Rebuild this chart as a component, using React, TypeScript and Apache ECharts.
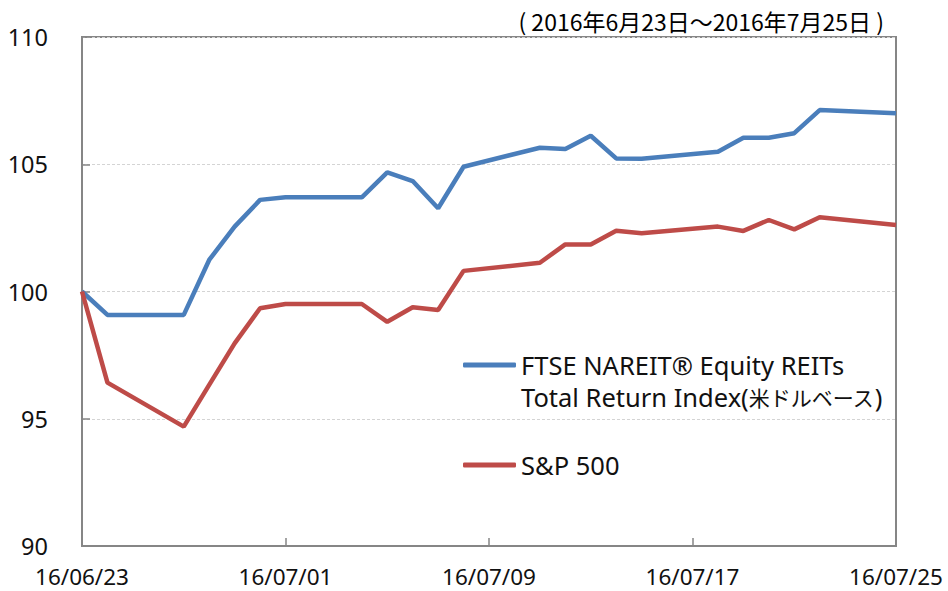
import React, { useEffect, useRef } from 'react';
import * as echarts from 'echarts';

const dates = ['2016-06-23', '2016-06-24', '2016-06-27', '2016-06-28', '2016-06-29', '2016-06-30', '2016-07-01', '2016-07-04', '2016-07-05', '2016-07-06', '2016-07-07', '2016-07-08', '2016-07-11', '2016-07-12', '2016-07-13', '2016-07-14', '2016-07-15', '2016-07-18', '2016-07-19', '2016-07-20', '2016-07-21', '2016-07-22', '2016-07-25'];
const reitValues = [100, 99.08, 99.08, 101.24, 102.55, 103.6, 103.7, 103.7, 104.68, 104.34, 103.27, 104.9, 105.65, 105.6, 106.12, 105.23, 105.22, 105.49, 106.04, 106.04, 106.22, 107.13, 107.0];
const spValues = [100, 96.42, 94.69, 96.33, 97.96, 99.34, 99.51, 99.51, 98.81, 99.38, 99.27, 100.81, 101.13, 101.85, 101.85, 102.39, 102.29, 102.55, 102.38, 102.81, 102.44, 102.92, 102.61];
const xTickLabels = ['16/06/23', '16/07/01', '16/07/09', '16/07/17', '16/07/25'];
const reitName = 'FTSE NAREIT® Equity REITs';
const reitName2Latin = 'Total Return Index(';
const reitName2Jp = '米ドルベース';
const reitName2End = ')';
const spName = 'S&P 500';
const periodText = '( 2016年6月23日～2016年7月25日 )';

const FONT = "'Noto Sans', 'Noto Sans CJK JP', sans-serif";
const JPFONT = "'Noto Sans CJK JP', sans-serif";
const AXIS = '#868686';

export default function App() {
  const ref = useRef<HTMLDivElement>(null);
  useEffect(() => {
    if (!ref.current) return;
    const chart = echarts.init(ref.current, undefined, { renderer: 'svg' });
    const t0 = Date.parse(dates[0]);
    const dayIndex = dates.map((d) => Math.round((Date.parse(d) - t0) / 86400000));
    const option = {
      animation: false,
      backgroundColor: '#ffffff',
      textStyle: { fontFamily: FONT },
      title: {
        text: periodText,
        right: 59,
        top: 4,
        textStyle: { fontSize: 23, fontWeight: 'normal', color: '#000', fontFamily: JPFONT },
      },
      grid: {
        left: 82, right: 52, top: 37, bottom: 45,
        show: true, borderColor: AXIS, borderWidth: 2, backgroundColor: 'transparent',
      },
      legend: [
        {
          data: [reitName],
          orient: 'vertical',
          left: 463,
          top: 317,
          padding: 0,
          icon: 'roundRect',
          itemWidth: 53,
          itemHeight: 5,
          formatter: () => ' \n' + reitName + '\n' + reitName2Latin + '{jp|' + reitName2Jp + '}' + reitName2End,
          textStyle: {
            fontSize: 25.5, lineHeight: 32, color: '#111', fontFamily: FONT,
            rich: { jp: { fontSize: 21, lineHeight: 32, color: '#111', fontFamily: JPFONT } },
          },
        },
        {
          data: [spName],
          orient: 'vertical',
          left: 463,
          top: 449,
          padding: 0,
          icon: 'roundRect',
          itemWidth: 53,
          itemHeight: 5,
          textStyle: { fontSize: 25.5, lineHeight: 32, color: '#111', fontFamily: FONT },
        },
      ],
      xAxis: {
        type: 'value',
        min: 0,
        max: 32,
        interval: 8,
        axisLine: { lineStyle: { color: AXIS, width: 2 } },
        axisTick: { show: true, inside: true, length: 8, lineStyle: { color: AXIS, width: 1.5 } },
        axisLabel: {
          fontSize: 22.5, lineHeight: 22, color: '#111', margin: 19, fontFamily: FONT,
          formatter: (v: number) => xTickLabels[Math.round(v / 8)] ?? '',
        },
        splitLine: { show: false },
      },
      yAxis: {
        type: 'value',
        min: 90,
        max: 110,
        interval: 5,
        axisLine: { show: true, lineStyle: { color: AXIS, width: 2 } },
        axisTick: { show: true, inside: true, length: 8, lineStyle: { color: AXIS, width: 1.5 } },
        axisLabel: { fontSize: 23.5, color: '#111', margin: 34, fontFamily: FONT },
        splitLine: { show: true, lineStyle: { color: '#D4D4D4', width: 1, type: [3, 2] } },
      },
      series: [
        {
          name: reitName,
          type: 'line',
          data: dayIndex.map((x, i) => [x, reitValues[i]]),
          symbol: 'none',
          lineStyle: { color: '#4A7EBB', width: 4.5 },
          itemStyle: { color: '#4A7EBB' },
        },
        {
          name: spName,
          type: 'line',
          data: dayIndex.map((x, i) => [x, spValues[i]]),
          symbol: 'none',
          lineStyle: { color: '#BE4B48', width: 4.5 },
          itemStyle: { color: '#BE4B48' },
        },
      ],
    };
    chart.setOption(option as any);
    return () => chart.dispose();
  }, []);
  return <div ref={ref} style={{ position: 'fixed', left: 0, top: 0, width: 948, height: 591 }} />;
}
